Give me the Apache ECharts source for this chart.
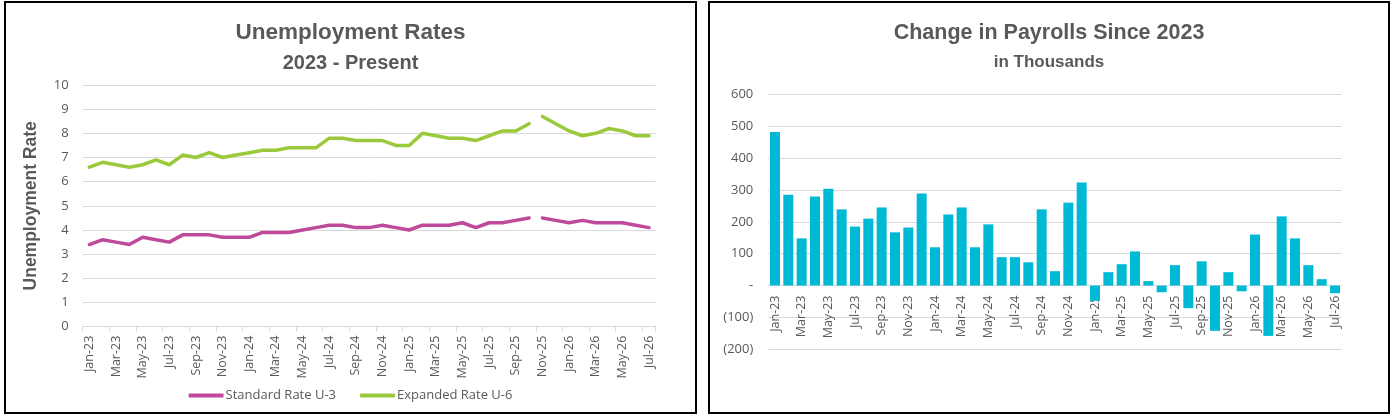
<!DOCTYPE html>
<html>
<head>
    <meta charset="utf-8">
    <title>Unemployment and Payrolls</title>
    <style>
        html,
        body {
            margin: 0px;
            padding: 0px;
            width: 1392px;
            height: 417px;
            background: #ffffff;
            overflow: hidden;
        }

        .panel {
            position: absolute;
            top: 1px;
            height: 409px;
            border: 2px solid #000000;
            background: #ffffff;
        }

        #rates {
            left: 4px;
            width: 689px;
        }

        #payrolls {
            left: 708px;
            width: 678px;
        }
    </style>
</head>

<body>
    <div id="rates" class="panel"></div>
    <div id="payrolls" class="panel"></div>
    <script src="https://cdn.jsdelivr.net/npm/echarts@6/dist/echarts.min.js"></script>
    <script type="text/javascript">
        // months, Jan-23 .. Jul-26
        var months = [
            'Jan-23', 'Feb-23', 'Mar-23', 'Apr-23', 'May-23', 'Jun-23', 'Jul-23', 'Aug-23', 'Sep-23', 'Oct-23', 'Nov-23', 'Dec-23',
            'Jan-24', 'Feb-24', 'Mar-24', 'Apr-24', 'May-24', 'Jun-24', 'Jul-24', 'Aug-24', 'Sep-24', 'Oct-24', 'Nov-24', 'Dec-24',
            'Jan-25', 'Feb-25', 'Mar-25', 'Apr-25', 'May-25', 'Jun-25', 'Jul-25', 'Aug-25', 'Sep-25', 'Oct-25', 'Nov-25', 'Dec-25',
            'Jan-26', 'Feb-26', 'Mar-26', 'Apr-26', 'May-26', 'Jun-26', 'Jul-26'
        ];

        // standard rate U-3 (%)
        var u3 = [
            3.4, 3.6, 3.5, 3.4, 3.7, 3.6, 3.5, 3.8, 3.8, 3.8, 3.7, 3.7,
            3.7, 3.9, 3.9, 3.9, 4.0, 4.1, 4.2, 4.2, 4.1, 4.1, 4.2, 4.1,
            4.0, 4.2, 4.2, 4.2, 4.3, 4.1, 4.3, 4.3, 4.4, 4.5, 4.5, 4.4,
            4.3, 4.4, 4.3, 4.3, 4.3, 4.2, 4.1
        ];

        // expanded rate U-6 (%)
        var u6 = [
            6.6, 6.8, 6.7, 6.6, 6.7, 6.9, 6.7, 7.1, 7.0, 7.2, 7.0, 7.1,
            7.2, 7.3, 7.3, 7.4, 7.4, 7.4, 7.8, 7.8, 7.7, 7.7, 7.7, 7.5,
            7.5, 8.0, 7.9, 7.8, 7.8, 7.7, 7.9, 8.1, 8.1, 8.4, 8.7, 8.4,
            8.1, 7.9, 8.0, 8.2, 8.1, 7.9, 7.9
        ];

        // payroll change, thousands
        var payrolls = [
            482, 285, 148, 279, 304, 239, 185, 210, 245, 167, 182, 289,
            120, 223, 245, 120, 192, 89, 89, 73, 239, 45, 260, 323,
            -48, 42, 67, 107, 14, -21, 64, -71, 76, -142, 42, -18,
            160, -158, 217, 148, 64, 20, -24
        ];

        // lines break between Oct-25 and Nov-25
        var breakAfter = 33;

        var rateTicks = [0, 10, 1];
        var payrollTicks = [-200, 600, 100];

        var textGray = '#595959';
        var gridGray = '#d9d9d9';
        var magenta = '#bf4a9c';
        var green = '#9aca3c';
        var cyan = '#00b9d5';
        var labelFont = '"Open Sans", sans-serif';
        var titleFont = '"Liberation Sans", Arial, sans-serif';

        // split a series into two parts around the break
        function part(arr, first) {
            return arr.map(function (v, i) {
                if (first) return i <= breakAfter ? v : null;
                return i > breakAfter ? v : null;
            });
        }

        function lineSeries(name, arr, color, first) {
            return {
                name: name,
                type: 'line',
                data: part(arr, first),
                symbol: 'none',
                connectNulls: false,
                lineStyle: { color: color, width: 3.5, cap: 'round', join: 'round' },
                itemStyle: { color: color }
            };
        }

        var ratesChart = echarts.init(document.getElementById('rates'));
        ratesChart.setOption({
            animation: false,
            title: [{
                text: 'Unemployment Rates',
                left: 'center',
                top: 13,
                textStyle: { color: textGray, fontSize: 22.5, fontWeight: 'bold', fontFamily: titleFont }
            }, {
                text: '2023 - Present',
                left: 'center',
                top: 45,
                textStyle: { color: textGray, fontSize: 20, fontWeight: 'bold', fontFamily: titleFont }
            }],
            legend: {
                left: 'center',
                top: 381,
                icon: 'roundRect',
                itemWidth: 35,
                itemHeight: 4,
                itemGap: 24,
                data: ['Standard Rate U-3', 'Expanded Rate U-6'],
                textStyle: { color: textGray, fontSize: 13, fontFamily: labelFont, padding: [0, 0, 0, -3] }
            },
            grid: {
                left: 76.7,
                right: 39.3,
                top: 82,
                bottom: 85.3
            },
            xAxis: {
                type: 'category',
                data: months,
                boundaryGap: true,
                axisLine: { lineStyle: { color: gridGray, width: 1 } },
                axisTick: { show: true, interval: 1, length: 5, lineStyle: { color: gridGray } },
                axisLabel: {
                    interval: 1,
                    rotate: 90,
                    margin: 9,
                    color: textGray,
                    fontSize: 12.5,
                    fontFamily: labelFont
                }
            },
            yAxis: {
                type: 'value',
                min: rateTicks[0],
                max: rateTicks[1],
                interval: rateTicks[2],
                name: 'Unemployment Rate',
                nameLocation: 'middle',
                nameGap: 43,
                nameTextStyle: { color: textGray, fontSize: 17.5, fontWeight: 'bold', fontFamily: titleFont },
                axisLine: { show: false },
                axisTick: { show: false },
                splitLine: { lineStyle: { color: gridGray, width: 1 } },
                axisLabel: { color: textGray, fontSize: 13, margin: 14, fontFamily: labelFont }
            },
            series: [
                lineSeries('Standard Rate U-3', u3, magenta, true),
                lineSeries('Standard Rate U-3', u3, magenta, false),
                lineSeries('Expanded Rate U-6', u6, green, true),
                lineSeries('Expanded Rate U-6', u6, green, false)
            ]
        });

        // payroll grid, category axis sits on the zero line
        var payGrid = { left: 58.3, right: 46.3, top: 91.3, bottom: 62.7 };
        var payPlotH = 409 - payGrid.top - payGrid.bottom;
        var zeroOffset = -payPlotH * (0 - payrollTicks[0]) / (payrollTicks[1] - payrollTicks[0]);

        var payrollChart = echarts.init(document.getElementById('payrolls'));
        payrollChart.setOption({
            animation: false,
            title: [{
                text: 'Change in Payrolls Since 2023',
                left: 'center',
                top: 14,
                textStyle: { color: textGray, fontSize: 21.5, fontWeight: 'bold', fontFamily: titleFont }
            }, {
                text: 'in Thousands',
                left: 'center',
                top: 46,
                textStyle: { color: textGray, fontSize: 17, fontWeight: 'bold', fontFamily: titleFont }
            }],
            grid: payGrid,
            xAxis: {
                type: 'category',
                data: months,
                boundaryGap: true,
                offset: zeroOffset,
                axisLine: { onZero: false, lineStyle: { color: gridGray, width: 1 } },
                axisTick: { show: false },
                axisLabel: {
                    interval: 1,
                    rotate: 90,
                    margin: 10,
                    color: textGray,
                    fontSize: 12.5,
                    fontFamily: labelFont
                }
            },
            yAxis: {
                type: 'value',
                min: payrollTicks[0],
                max: payrollTicks[1],
                interval: payrollTicks[2],
                axisLine: { show: false },
                axisTick: { show: false },
                splitLine: { lineStyle: { color: gridGray, width: 1 } },
                axisLabel: {
                    color: textGray,
                    fontSize: 13,
                    margin: 15,
                    fontFamily: labelFont,
                    // accounting style: dash for zero, brackets for negatives
                    formatter: function (v) {
                        if (v === 0) return '-';
                        if (v < 0) return '(' + Math.abs(v) + ')';
                        return String(v);
                    }
                }
            },
            series: [{
                name: 'Payrolls',
                type: 'bar',
                data: payrolls,
                barCategoryGap: '25%',
                itemStyle: { color: cyan }
            }]
        });
    </script>
</body>
</html>
